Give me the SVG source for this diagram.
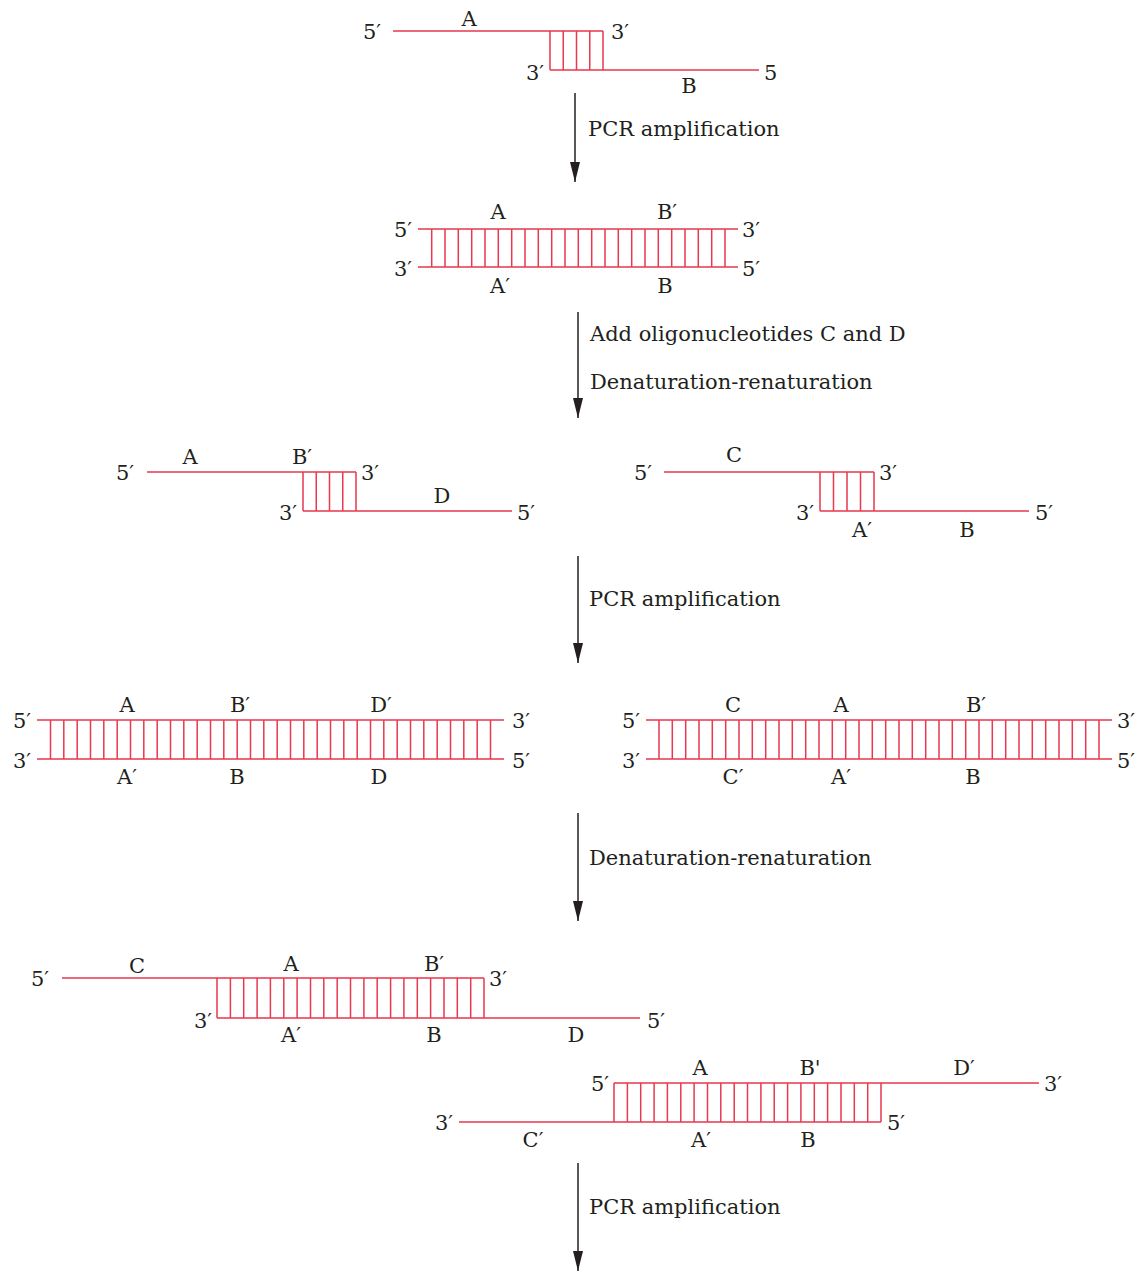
<svg xmlns="http://www.w3.org/2000/svg" width="1147" height="1273" viewBox="0 0 1147 1273">
<style>
text{font-family:"DejaVu Serif","Liberation Serif",serif;font-size:21px;fill:#231f20}
.m{text-anchor:middle}
.s{fill:none;stroke:#e8394f;stroke-width:1.5}
.r{fill:none;stroke:#e8394f;stroke-width:1.5}
.a{stroke:#231f20;stroke-width:1.5;fill:none}
</style>
<defs>
<marker id="ah" viewBox="0 0 20 10" refX="20" refY="5" markerWidth="20" markerHeight="10" markerUnits="userSpaceOnUse" orient="auto">
<path d="M0,0 L20,5 L0,10 z" fill="#231f20"/>
</marker>
</defs>
<rect width="1147" height="1273" fill="#fff"/>

<g id="connectors">
<line class="a" x1="575" y1="93" x2="575" y2="182" marker-end="url(#ah)"/>
<line class="a" x1="578" y1="312" x2="578" y2="418" marker-end="url(#ah)"/>
<line class="a" x1="578" y1="556" x2="578" y2="663" marker-end="url(#ah)"/>
<line class="a" x1="578" y1="813" x2="578" y2="921" marker-end="url(#ah)"/>
<line class="a" x1="578" y1="1163" x2="578" y2="1271" marker-end="url(#ah)"/>
<text x="588" y="136">PCR amplification</text>
<text x="590" y="341">Add oligonucleotides C and D</text>
<text x="590" y="389">Denaturation-renaturation</text>
<text x="589" y="606">PCR amplification</text>
<text x="589" y="865">Denaturation-renaturation</text>
<text x="589" y="1214">PCR amplification</text>
</g>

<g id="s1">
<path class="s" d="M393 31H603M550 70H759"/>
<path class="r" d="M550 31V70M563.25 31V70M576.5 31V70M589.75 31V70M603 31V70"/>
<text x="363" y="39">5′</text>
<text class="m" x="469" y="26">A</text>
<text x="611" y="39">3′</text>
<text x="526" y="80">3′</text>
<text x="764" y="80">5</text>
<text class="m" x="689" y="93">B</text>
</g>

<g id="s2">
<path class="s" d="M418 229H738M418 267H738"/>
<path class="r" d="M431.7 229V267M445 229V267M458.3 229V267M471.7 229V267M485 229V267M498.3 229V267M511.7 229V267M525 229V267M538.3 229V267M551.7 229V267M565 229V267M578.3 229V267M591.7 229V267M605 229V267M618.3 229V267M631.7 229V267M645 229V267M658.3 229V267M671.7 229V267M685 229V267M698.3 229V267M711.7 229V267M725 229V267"/>
<text x="394" y="237">5′</text>
<text x="742" y="237">3′</text>
<text x="394" y="276">3′</text>
<text x="742" y="276">5′</text>
<text class="m" x="498" y="219">A</text>
<text class="m" x="667" y="219">B′</text>
<text class="m" x="500" y="293">A′</text>
<text class="m" x="665" y="293">B</text>
</g>

<g id="s3-left">
<path class="s" d="M147 472H356M303 511H512"/>
<path class="r" d="M303 472V511M316.25 472V511M329.5 472V511M342.75 472V511M356 472V511"/>
<text x="116" y="480">5′</text>
<text class="m" x="190" y="464">A</text>
<text class="m" x="302" y="464">B′</text>
<text x="361" y="480">3′</text>
<text x="279" y="520">3′</text>
<text class="m" x="442" y="503">D</text>
<text x="517" y="520">5′</text>
</g>

<g id="s3-right">
<path class="s" d="M664 472H874M820 511H1029"/>
<path class="r" d="M820 472V511M833.5 472V511M847 472V511M860.5 472V511M874 472V511"/>
<text x="634" y="480">5′</text>
<text class="m" x="734" y="462">C</text>
<text x="879" y="480">3′</text>
<text x="796" y="520">3′</text>
<text class="m" x="862" y="537">A′</text>
<text class="m" x="967" y="537">B</text>
<text x="1035" y="520">5′</text>
</g>

<g id="s4-left">
<path class="s" d="M37 720H504M37 759H504"/>
<path class="r" d="M50.5 720V759M63.8 720V759M77.2 720V759M90.5 720V759M103.8 720V759M117.2 720V759M130.5 720V759M143.8 720V759M157.2 720V759M170.5 720V759M183.8 720V759M197.2 720V759M210.5 720V759M223.8 720V759M237.2 720V759M250.5 720V759M263.8 720V759M277.2 720V759M290.5 720V759M303.8 720V759M317.2 720V759M330.5 720V759M343.8 720V759M357.2 720V759M370.5 720V759M383.8 720V759M397.2 720V759M410.5 720V759M423.8 720V759M437.2 720V759M450.5 720V759M463.8 720V759M477.2 720V759M490.5 720V759"/>
<text x="13" y="728">5′</text>
<text x="13" y="768">3′</text>
<text class="m" x="127" y="712">A</text>
<text class="m" x="240" y="712">B′</text>
<text class="m" x="381" y="712">D′</text>
<text class="m" x="127" y="784">A′</text>
<text class="m" x="237" y="784">B</text>
<text class="m" x="379" y="784">D</text>
<text x="512" y="728">3′</text>
<text x="512" y="768">5′</text>
</g>

<g id="s4-right">
<path class="s" d="M646 720H1112M646 759H1112"/>
<path class="r" d="M659 720V759M672.3 720V759M685.7 720V759M699 720V759M712.3 720V759M725.7 720V759M739 720V759M752.3 720V759M765.7 720V759M779 720V759M792.3 720V759M805.7 720V759M819 720V759M832.3 720V759M845.7 720V759M859 720V759M872.3 720V759M885.7 720V759M899 720V759M912.3 720V759M925.7 720V759M939 720V759M952.3 720V759M965.7 720V759M979 720V759M992.3 720V759M1005.7 720V759M1019 720V759M1032.3 720V759M1045.7 720V759M1059 720V759M1072.3 720V759M1085.7 720V759M1099 720V759"/>
<text x="622" y="728">5′</text>
<text x="622" y="768">3′</text>
<text class="m" x="733" y="712">C</text>
<text class="m" x="841" y="712">A</text>
<text class="m" x="976" y="712">B′</text>
<text class="m" x="733" y="784">C′</text>
<text class="m" x="841" y="784">A′</text>
<text class="m" x="973" y="784">B</text>
<text x="1117" y="728">3′</text>
<text x="1117" y="768">5′</text>
</g>

<g id="s5-upper">
<path class="s" d="M62 978H484M217 1018H640"/>
<path class="r" d="M217 978V1018M230.4 978V1018M243.7 978V1018M257.1 978V1018M270.4 978V1018M283.8 978V1018M297.1 978V1018M310.5 978V1018M323.8 978V1018M337.2 978V1018M350.5 978V1018M363.9 978V1018M377.2 978V1018M390.6 978V1018M403.9 978V1018M417.3 978V1018M430.6 978V1018M444 978V1018M457.3 978V1018M470.7 978V1018M484 978V1018"/>
<text x="31" y="986">5′</text>
<text class="m" x="137" y="973">C</text>
<text class="m" x="291" y="971">A</text>
<text class="m" x="434" y="971">B′</text>
<text x="489" y="986">3′</text>
<text x="194" y="1028">3′</text>
<text class="m" x="291" y="1042">A′</text>
<text class="m" x="434" y="1042">B</text>
<text class="m" x="576" y="1042">D</text>
<text x="647" y="1028">5′</text>
</g>

<g id="s5-lower">
<path class="s" d="M614 1083H1039M459 1122H881"/>
<path class="r" d="M614 1083V1122M627.4 1083V1122M640.7 1083V1122M654.1 1083V1122M667.4 1083V1122M680.8 1083V1122M694.1 1083V1122M707.5 1083V1122M720.8 1083V1122M734.2 1083V1122M747.5 1083V1122M760.9 1083V1122M774.2 1083V1122M787.6 1083V1122M800.9 1083V1122M814.3 1083V1122M827.6 1083V1122M841 1083V1122M854.3 1083V1122M867.7 1083V1122M881 1083V1122"/>
<text x="591" y="1091">5′</text>
<text class="m" x="700" y="1075">A</text>
<text class="m" x="810" y="1075">B'</text>
<text class="m" x="964" y="1075">D′</text>
<text x="1044" y="1091">3′</text>
<text x="435" y="1130">3′</text>
<text class="m" x="533" y="1147">C′</text>
<text class="m" x="701" y="1147">A′</text>
<text class="m" x="808" y="1147">B</text>
<text x="887" y="1130">5′</text>
</g>
</svg>
